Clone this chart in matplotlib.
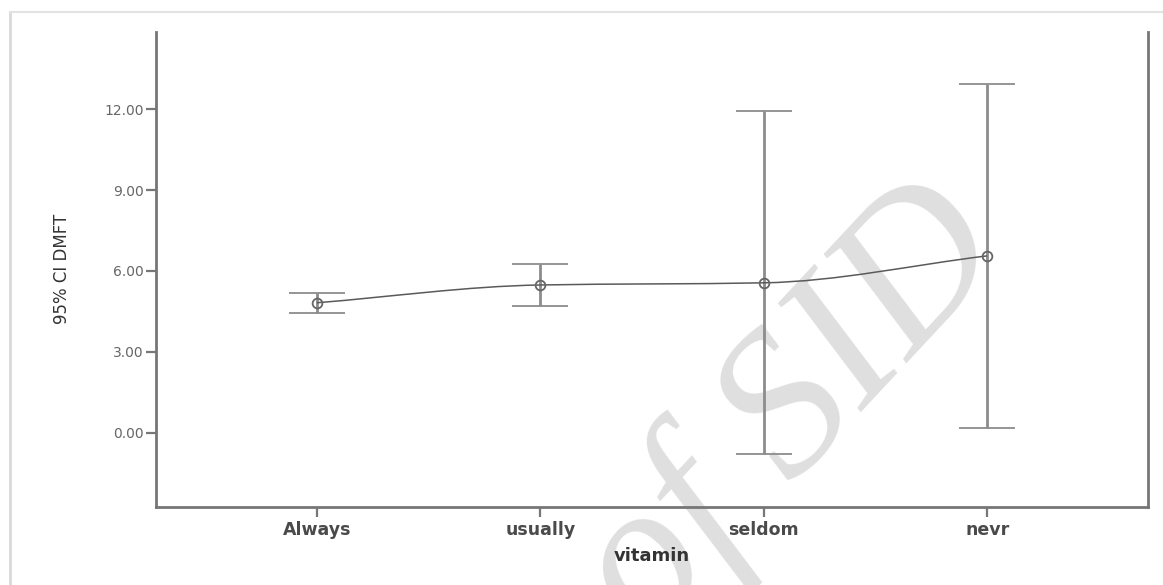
import numpy as np
import matplotlib
matplotlib.use("Agg")
import matplotlib.pyplot as plt
from matplotlib.path import Path
from matplotlib.patches import PathPatch
from matplotlib.lines import Line2D

# Data (95% CI of DMFT by vitamin intake)
categories = ['Always', 'usually', 'seldom', 'nevr']
means = [4.82, 5.48, 5.56, 6.56]
ci_low = [4.43, 4.71, -0.80, 0.18]
ci_high = [5.17, 6.25, 11.94, 12.93]
yticks = [0.0, 3.0, 6.0, 9.0, 12.0]

x = np.arange(len(categories))
means = np.array(means)
err = [means - np.array(ci_low), np.array(ci_high) - means]

fig = plt.figure(figsize=(11.63, 5.85), dpi=100)
ax = fig.add_axes([0.1341, 0.1338, 0.8530, 0.8120])
ax.patch.set_alpha(0)

# error bars
line, caps, bars = ax.errorbar(x, means, yerr=err, fmt='none', ecolor='#8c8c8c',
                               elinewidth=2.0, capsize=20, capthick=1.3, zorder=3)
for c in caps:
    c.set_color('#5a5a5a')

# smooth monotone line through the means (cubic bezier, Fritsch-Carlson slopes)
d = np.diff(means) / np.diff(x)
m = np.zeros(len(means))
m[0], m[-1] = d[0], d[-1]
for i in range(1, len(means) - 1):
    if d[i - 1] * d[i] > 0:
        m[i] = 2 * d[i - 1] * d[i] / (d[i - 1] + d[i])
verts = [(x[0], means[0])]
codes = [Path.MOVETO]
for i in range(len(means) - 1):
    h = x[i + 1] - x[i]
    verts += [(x[i] + h / 3, means[i] + m[i] * h / 3),
              (x[i + 1] - h / 3, means[i + 1] - m[i + 1] * h / 3),
              (x[i + 1], means[i + 1])]
    codes += [Path.CURVE4] * 3
ax.add_patch(PathPatch(Path(verts, codes), fill=False, edgecolor='#5a5a5a',
                       lw=1.1, zorder=4))
ax.plot(x, means, 'o', ms=7, mfc='none', mec='#666666', mew=1.3, zorder=5)

ax.set_xlim(-0.72, 3.72)
ax.set_ylim(-2.75, 14.88)
ax.set_xticks(x)
ax.set_xticklabels(categories, fontsize=12.5, fontweight='bold', color='#4a4a4a')
ax.set_yticks(yticks)
ax.set_yticklabels([f'{v:.2f}' for v in yticks], fontsize=10, color='#666666')
ax.tick_params(axis='both', direction='out', length=7, width=1.6, color='#777777')
ax.tick_params(axis='x', pad=3)
ax.tick_params(axis='y', pad=2)

ax.spines['top'].set_visible(False)
for s in ['left', 'right', 'bottom']:
    ax.spines[s].set_color('#767676')
    ax.spines[s].set_linewidth(2)

ax.set_xlabel('vitamin', fontsize=13, fontweight='bold', color='#333333', labelpad=6)
ax.set_ylabel('95% CI DMFT', fontsize=12, color='#333333', labelpad=24)

# watermark
ax.text(792 / 1163, 1 - 412 / 585, 'of SID', transform=fig.transFigure,
        fontsize=148, family='Liberation Serif', style='italic',
        color='#dfdfdf', rotation=47, ha='center', va='center',
        rotation_mode='anchor', zorder=0.5, clip_on=False)

# faint page frame
fig.add_artist(Line2D([10 / 1163, 10 / 1163], [0, 1 - 12 / 585],
                      transform=fig.transFigure, color='#d9d9d9', lw=2))
fig.add_artist(Line2D([10 / 1163, 1], [1 - 12 / 585, 1 - 12 / 585],
                      transform=fig.transFigure, color='#e3e3e3', lw=1.5))

fig.savefig('out.png', dpi=100)
